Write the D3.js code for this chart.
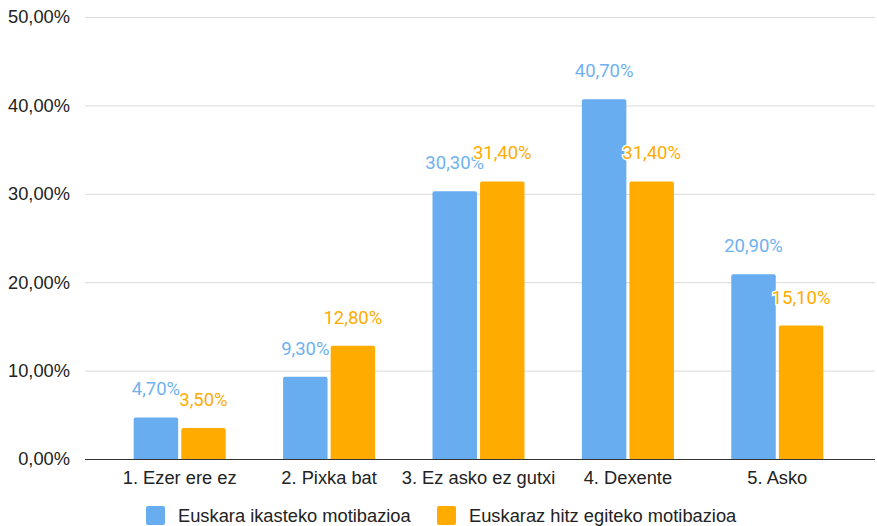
<!DOCTYPE html>
<html>
<head>
<meta charset="utf-8">
<script src="https://cdn.jsdelivr.net/npm/d3@7"></script>
<style>
body { margin: 0; background: #fff; }
</style>
</head>
<body>
<div id="chart"></div>
<script>
var categories = ['1. Ezer ere ez', '2. Pixka bat', '3. Ez asko ez gutxi', '4. Dexente', '5. Asko'];
var seriesNames = ['Euskara ikasteko motibazioa', 'Euskaraz hitz egiteko motibazioa'];
var ikasteko = [4.7, 9.3, 30.3, 40.7, 20.9];
var hitzEgiteko = [3.5, 12.8, 31.4, 31.4, 15.1];
var yTicks = [0, 10, 20, 30, 40, 50];

var w = 877;
var h = 526;
var colors = ['#68adef', '#ffab00'];
var labelColors = ['#6fb1ef', '#ffab00'];
var axisFont = 'Liberation Sans, Arial, sans-serif';

var fmt = function(v) {
	return d3.format('.2f')(v).replace('.', ',') + '%';
};

var rows = categories.map(function(c, i) {
	return {cat: c, values: [ikasteko[i], hitzEgiteko[i]]};
});

var svg = d3.select('#chart')
			.append('svg')
			.attr('width', w)
			.attr('height', h);

var x0 = d3.scaleBand()
			.domain(categories)
			.range([105, 852])
			.paddingInner(0.384)
			.paddingOuter(0.192);

var x1 = d3.scaleBand()
			.domain([0, 1])
			.range([0, x0.bandwidth()])
			.paddingInner(0.065);

var y = d3.scaleLinear()
			.domain([0, 50])
			.range([459, 17]);

//gridlines
svg.append('g')
	.selectAll('line')
	.data(yTicks)
	.enter()
	.append('line')
	.attr('x1', 85)
	.attr('x2', 875)
	.attr('y1', function(d) { return y(d) + 0.5; })
	.attr('y2', function(d) { return y(d) + 0.5; })
	.attr('stroke', '#d9d9d9')
	.attr('stroke-width', 1);

//y labels
svg.append('g')
	.selectAll('text')
	.data(yTicks)
	.enter()
	.append('text')
	.attr('x', 70)
	.attr('y', function(d) { return y(d); })
	.attr('dy', '0.35em')
	.attr('text-anchor', 'end')
	.style('font-family', axisFont)
	.style('font-size', '18.3px')
	.attr('fill', '#222')
	.text(fmt);

//bars
var groups = svg.append('g')
	.selectAll('g')
	.data(rows)
	.enter()
	.append('g')
	.attr('transform', function(d) { return 'translate(' + x0(d.cat) + ',0)'; });

groups.selectAll('path')
	.data(function(d) { return d.values; })
	.enter()
	.append('path')
	.attr('fill', function(d, i) { return colors[i]; })
	.attr('d', function(d, i) {
		var bx = x1(i), bw = x1.bandwidth(), top = y(d), bot = y(0), r = 2;
		return 'M' + bx + ',' + bot + 'V' + (top + r) + 'Q' + bx + ',' + top + ' ' + (bx + r) + ',' + top +
			'H' + (bx + bw - r) + 'Q' + (bx + bw) + ',' + top + ' ' + (bx + bw) + ',' + (top + r) + 'V' + bot + 'Z';
	});

//baseline
svg.append('line')
	.attr('x1', 85)
	.attr('x2', 875)
	.attr('y1', y(0) + 0.5)
	.attr('y2', y(0) + 0.5)
	.attr('stroke', '#333')
	.attr('stroke-width', 1);

//value labels
groups.selectAll('text.val')
	.data(function(d) { return d.values; })
	.enter()
	.append('text')
	.attr('class', 'val')
	.attr('x', function(d, i) { return x1(i) + x1.bandwidth() / 2; })
	.attr('y', function(d) { return y(d) - 22; })
	.attr('text-anchor', 'middle')
	.style('font-family', 'Roboto, sans-serif')
	.style('font-size', '18.5px')
	.attr('fill', function(d, i) { return labelColors[i]; })
	.attr('stroke', '#fff')
	.attr('stroke-width', 3)
	.attr('paint-order', 'stroke')
	.text(fmt);

//category labels
svg.append('g')
	.selectAll('text')
	.data(categories)
	.enter()
	.append('text')
	.attr('x', function(d) { return x0(d) + x0.bandwidth() / 2; })
	.attr('y', 484)
	.attr('text-anchor', 'middle')
	.style('font-family', axisFont)
	.style('font-size', '18.3px')
	.attr('fill', '#222')
	.text(function(d) { return d; });

//legend
var legendX = [146, 437];
var legend = svg.append('g')
	.selectAll('g')
	.data(seriesNames)
	.enter()
	.append('g')
	.attr('transform', function(d, i) { return 'translate(' + legendX[i] + ',506)'; });

legend.append('rect')
	.attr('width', 19)
	.attr('height', 19)
	.attr('rx', 2)
	.attr('fill', function(d, i) { return colors[i]; });

legend.append('text')
	.attr('x', 32)
	.attr('y', 15.5)
	.style('font-family', axisFont)
	.style('font-size', '18.3px')
	.attr('fill', '#222')
	.text(function(d) { return d; });
</script>
</body>
</html>
